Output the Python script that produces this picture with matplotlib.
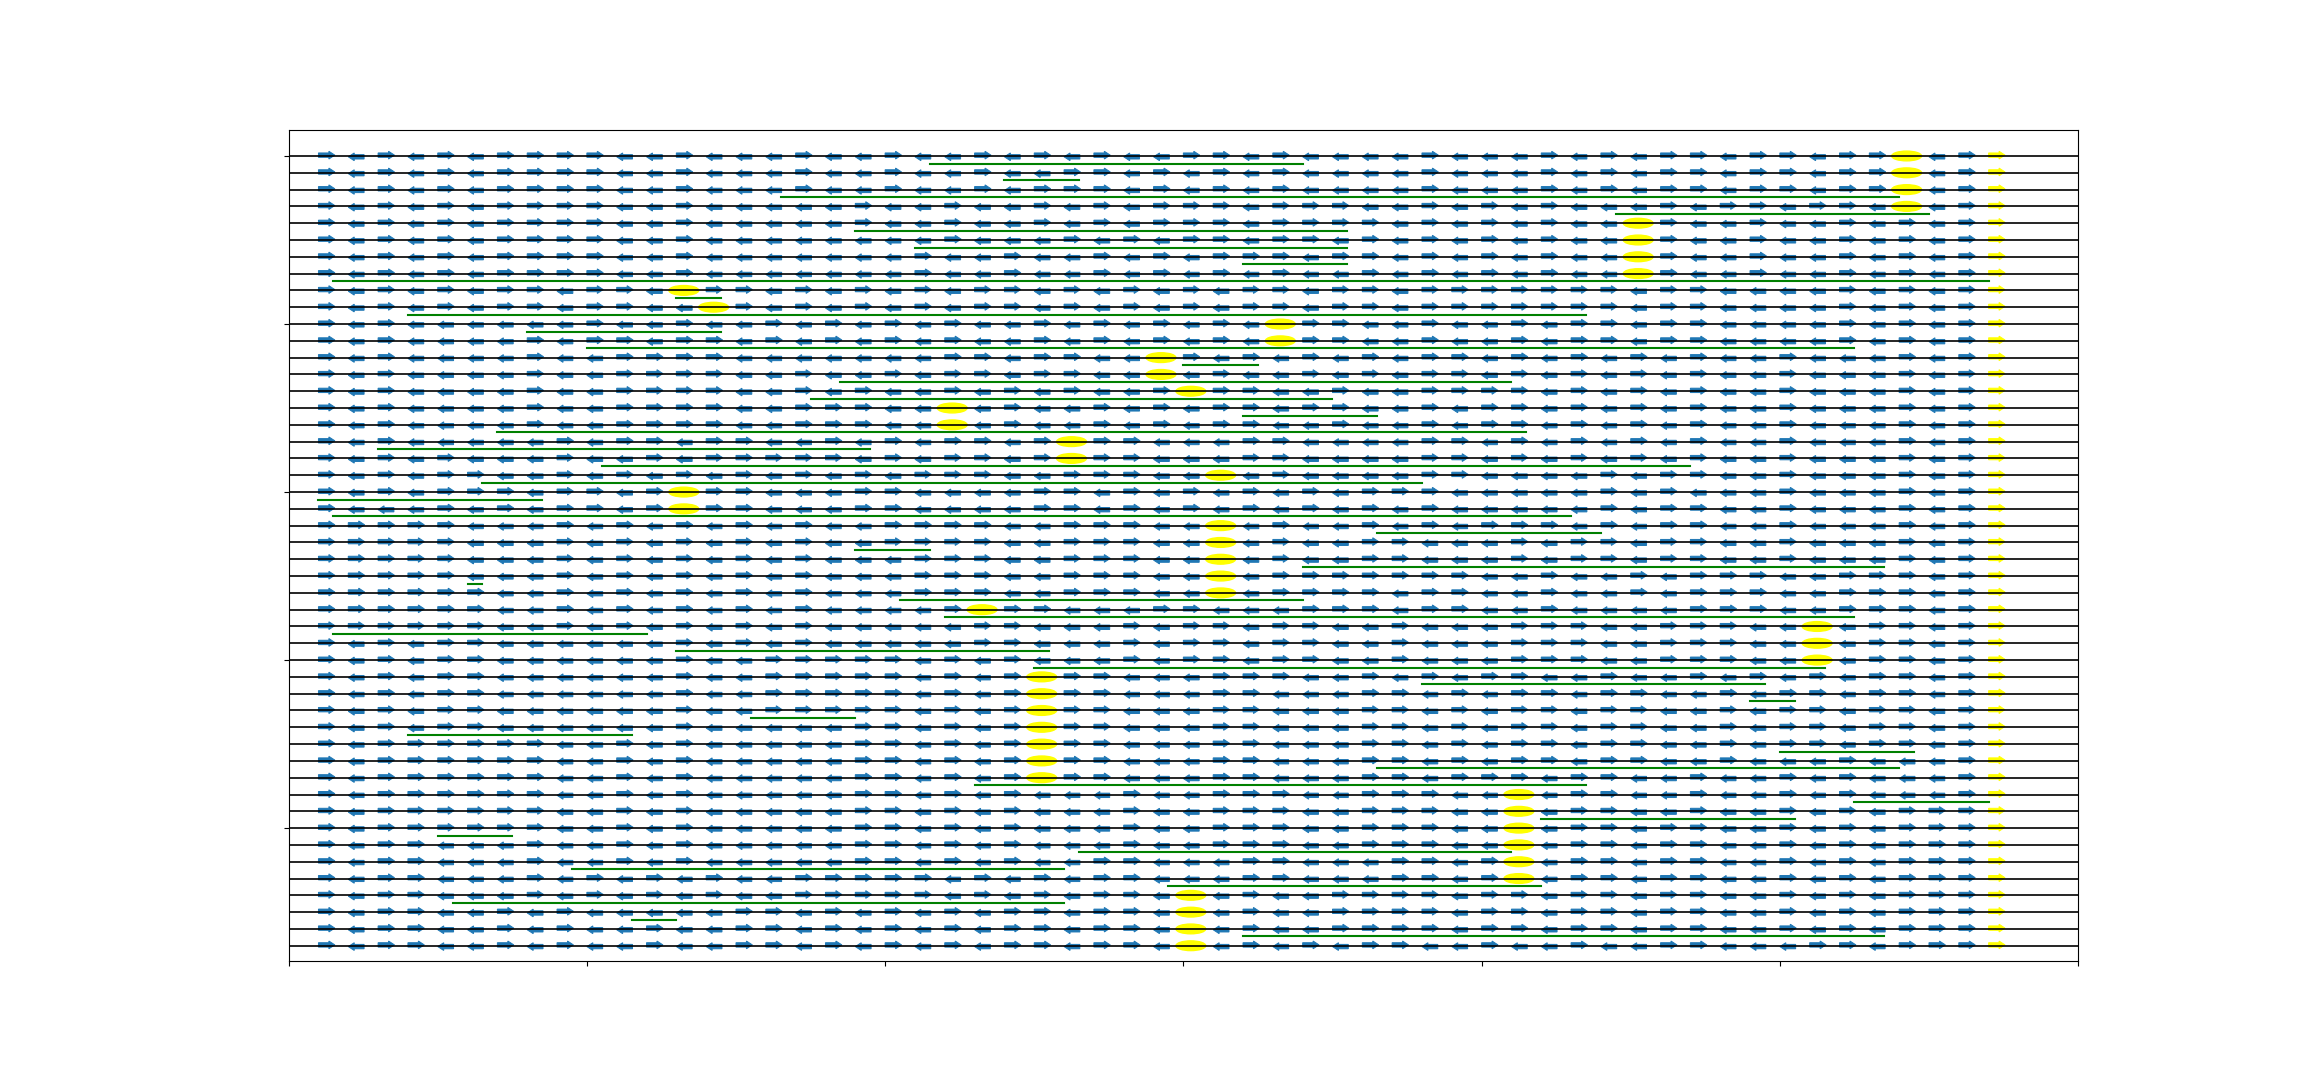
import numpy as np
import matplotlib
matplotlib.use("Agg")
import matplotlib.pyplot as plt
from matplotlib.patches import Ellipse

# one string per time slice, columns 1..56
# '>' spin up, '<' spin down, 'o' marked site
spins = [
    "><><><>>>><<><<<><<>" "<<><><><<>><><<<<><" "<<><><>><>><>>o<>",
    "><><><>>>><<><<<><<>" "<<><<>><><><><<<<><" "<<><><>><>><>>o<>",
    "><><><>>>><<><<<><<>" "<<><>>><><><><<<<><" "<<><><>><>><>>o<>",
    "><><><>>>><<><<<<<><" "<><<><><>>><>>><<><" "><><<<><>><>><o<>",
    "><><><>>>><<><<<<<><" "<><<><><>>><>>>><><" "><><<o><<><<><><>",
    "><><><>>>><<><<<<<<<" "<><<<><><>><>><><><" "><><<o><<><<><><>",
    "><><><>>>><<><<<<<<<" "><<><<><><>>><>><><" "><><<o><<><<><><>",
    "><><><>>>><<><<<<<<<" "><<><<><><><><<><><" "><><<o><<><<><><>",
    "><><><>><>><o>><><><" "><>><><><><>><>><>>" ">>>>><>><<<<><><>",
    "><><><>><>><<o><><><" "><>><><><><>><>><>>" ">>>>><>><<<<><><>",
    "><><<<<<<><<><<><><>" "<><<><><><><o>><<><" "<><>><>><<<<><><>",
    "><><<<<><>><>><><><>" "<><<><><><><o>><<><" "<><>><>><<<<><><>",
    "><><<<<><<>>>><<<<<<" "<>><>><<o><><><><>>" "<><><><><<><<<><>",
    "><><<<<><<>>>><<><<>" "<>><>><<o<><<><><>>" "<><><><><<><<<><>",
    "><><<<<><<>>>><<><><" "<><><><<>o>><<><<>>" ">><><><><<><<<><>",
    "><><<<<><<>>>><<>>><" "<o<><<><><>><>><<><" ">><><><><<><<<><>",
    "><><<<<><<>>>><<>>><" "<o<><<><><>><<><<><" ">><><><><<><<<><>",
    "><><<<<<><>><>><<><>" "<>><>o>><<<>><<<<>>" "<><><><><<><<<><>",
    "><><><<<><<><>>>>><>" "<>><>o>><<<>><<<<>>" "<><><><><<><<<><>",
    "><><>><<><><><><><><" ">>><<>>><<o<><<<<>>" "<<<<><>><<><<<><>",
    "><><>>><>><>o>><<<>>" "<<<<>><><><><><>>><" "<<<<><><<<><<<><>",
    "><<<><><>><>o>><<<>>" "<<<<>><><><><><><><" "<<<<><>><<><<<><>",
    ">>>>><<<><><><><><<>" ">>><<>>><<o<><<><><" ">>><><>><<><<<><>",
    ">>>>><<<><><><><><<>" ">>><<>>><<o<><<>><<" "<><>><>><<><<<><>",
    ">>>>><<<><><><><><<<" ">>><<>>><<o<><<>><<" "<><>><>><<><<<><>",
    ">>>>><<<><><><><><<<" ">>><<>>><<o<>>>>>>>" "<<><<><>>><<>>><>",
    ">>>>>><<><><><><><<<" ">>><<>>><<o<>>>><>>" "<<><<><>>><<>>><>",
    ">>>>>><<><><><><><<<" "<>o>><<<>><<<>>><>>" "<<><<<<>>><<>>><>",
    ">>>>>><<><><><><><<<" "<<>><<<><>><>><<><<" "<>>><<>>><<o<>><>",
    "><><>><<<<<<><><><<<" "<<>><<<><>><>><<><<" "<>>><<>>><<o<>><>",
    "><><>><<<<<<><<>>>>>" "<><><<<><>><>><<><<" "<>>><<>>><<o<>><>",
    "><><>><<<<<<><<>>>>>" "<><>o>><<<>>><<><><" ">><<><<><><><>><>",
    "><><>><<<<<<><<>>>>>" "<><>o>><<<>><<<>><>" "<>><>><<><>><>><>",
    "><><>><<<<<<><<>>>>>" "<><>o>><<<>><<<>><>" "<>><>><<><>><>><>",
    "><><>><<<<<<><<<<<>>" "<><>o>><<<>><<<>><>" "<>><>><<><>><>><>",
    "><>>>>>><<><><<<<<>>" "<><>o>><<<>><<<>><>" "<>><>><<><>><>><>",
    "><>>>>>><<><><<<<<>>" "<><>o>><<<>><<<>><>" "<>><>><<><<<><<<>",
    "><>>>>>><<><><<<<<>>" "<><>o>><<<>><<<>><>" ">><>><<><<><><<<>",
    "><>>>>>><<><><<<<<>>" "<><><<<><<>>><<>>><" "<o<>><<><<><><<<>",
    "><>>>>>><<><><<<<<>>" "<><><<<><<>>><<>>><" "<o<>><<><<><><>>>",
    "><>>>>>><<><><<<<<>>" "<><><<<><<>>><<>>><" "<o<>><>><<><><>>>",
    "><>><<<><<><><<<<<>>" "<><><<<><<>>><<>>><" "<o<>><>><<><><>>>",
    "><>><<<><<><><<<<<>>" "<><><<>><<<>><<<>><" ">o<>><>><<><><>>>",
    "><>><<<><><><><<>>>>" "><><><>><<<>><<<>><" ">o<>><>><<><><>>>",
    "><>><<<><><><><<>>>>" "><><><>><o<><<>>>><" ">><>><>><<><><>>>",
    "><>><<><><<<<<>><><>" "<><>><>><o<><<>>>><" ">><>><>><<><><>>>",
    "><>><<><><<><<>><><>" "<><>><>><o<><<>>>><" ">><>><>><<><><>>>",
    "><>><<><><<><<>><><>" "<><>><>><o<><><>><<" "><<><<>><<<>><>>>",
]

# green bonds drawn just below a slice: (slice, x start, x end)
bond_rows = [0, 1, 2, 3, 4, 5, 6, 7, 8, 9, 10, 11, 12, 13, 14, 15,
             16, 17, 18, 19, 20, 21, 22, 23, 24, 25, 26, 27, 28, 29, 30, 31,
             32, 33, 34, 35, 36, 37, 38, 39, 40, 41, 42, 43, 44, 45, 46]
bond_starts = [21.5, 24, 16.5, 44.5, 19, 21, 32, 1.5, 13, 4, 8, 10, 30, 18.5, 17.5, 32,
               7, 3, 10.5, 6.5, 1, 1.5, 36.5, 19, 34, 6, 20.5, 22, 1.5, 13, 25, 38,
               49, 15.5, 4, 50, 36.5, 23, 52.5, 42, 5, 26.5, 9.5, 29.5, 5.5, 11.5, 32]
bond_ends = [34, 26.5, 54, 55, 35.5, 35.5, 35.5, 57, 14.5, 43.5, 14.5, 52.5, 32.5, 41, 35, 36.5,
             41.5, 19.5, 47, 38, 8.5, 43, 44, 21.5, 53.5, 6.5, 34, 52.5, 12, 25.5, 51.5, 49.5,
             50.5, 19, 11.5, 54.5, 54, 43.5, 57, 50.5, 7.5, 41, 26, 42, 26, 13, 53.5]

n_cols = 56
arrow_kw = dict(width=0.26, head_width=0.46, head_length=0.2,
                length_includes_head=True, lw=0.7)

fig, ax = plt.subplots(figsize=(23.09, 10.8), dpi=100)

for r, row in enumerate(spins):
    assert len(row) == n_cols, (r, len(row))
    for c, s in enumerate(row, start=1):
        if s == '>':
            ax.arrow(c, r - 0.05, 0.55, 0, color='#1f77b4', **arrow_kw)
        elif s == '<':
            ax.arrow(c + 0.53, r + 0.05, -0.53, 0, color='#1f77b4', **arrow_kw)
        else:
            ax.add_patch(Ellipse((c + 0.25, r), 1.0, 0.58, color='yellow'))
    # last column is always the yellow arrow
    ax.arrow(n_cols + 1, r - 0.05, 0.55, 0, color='yellow', **arrow_kw)
    ax.axhline(r, color='black', lw=1.2, zorder=2)

for r, x0, x1 in zip(bond_rows, bond_starts, bond_ends):
    ax.plot([x0, x1], [r + 0.45, r + 0.45], color='green', lw=1.5, zorder=3)

ax.set_xlim(0, 60)
ax.set_ylim(47.92, -1.57)
ax.set_xticks(np.arange(0, 61, 10))
ax.set_yticks(np.arange(0, 41, 10))
ax.tick_params(labelcolor='white')

plt.savefig('out.png')
